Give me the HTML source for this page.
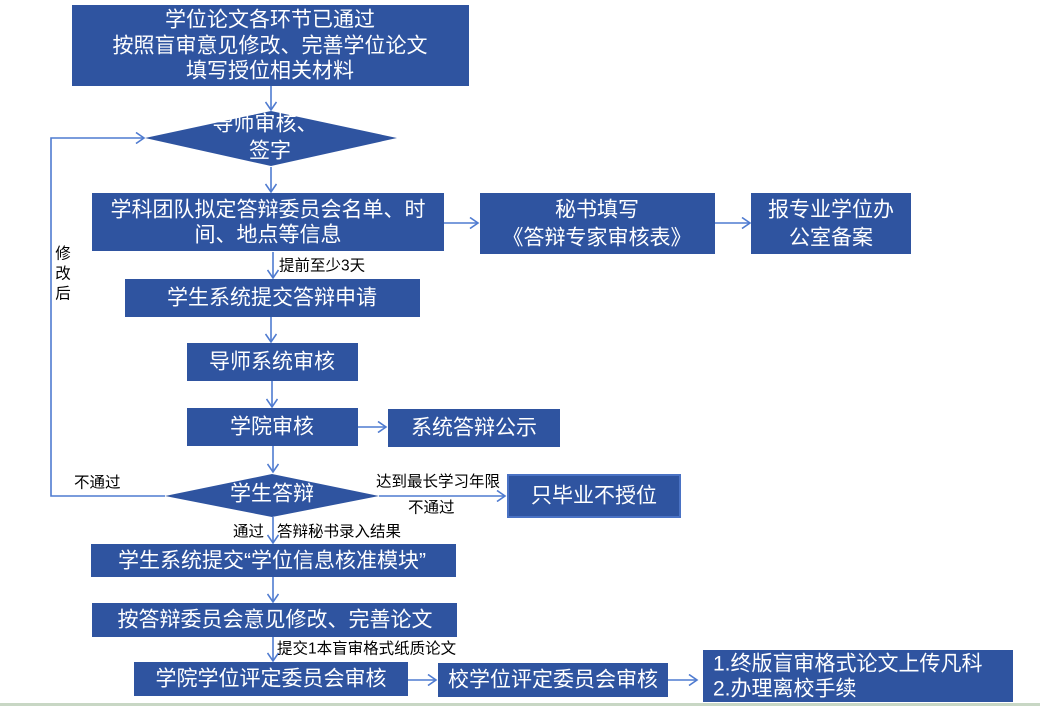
<!DOCTYPE html>
<html><head><meta charset="utf-8">
<style>
html,body{margin:0;padding:0;background:#fff;}
svg{display:block;}
text{font-family:"Liberation Sans","Noto Sans CJK SC",sans-serif;}
.w{fill:#fff;font-size:21px;text-anchor:middle;dominant-baseline:central;}
.b{fill:#000;font-size:15.5px;dominant-baseline:central;}
.box{fill:#2F54A0;}
.ln{stroke:#4F7BD0;stroke-width:1.6;fill:none;}
</style></head>
<body>
<svg width="1040" height="706" viewBox="0 0 1040 706" xmlns="http://www.w3.org/2000/svg">
<defs>
<marker id="ah" markerWidth="12" markerHeight="12" refX="9" refY="6" orient="auto" markerUnits="userSpaceOnUse">
<path d="M1,0.5 L9,6 L1,11.5" fill="none" stroke="#4F7BD0" stroke-width="1.6"/>
</marker>
</defs>

<!-- top box -->
<rect class="box" x="72" y="5" width="397" height="81"/>
<text class="w" x="270" y="20">学位论文各环节已通过</text>
<text class="w" x="270" y="46">按照盲审意见修改、完善学位论文</text>
<text class="w" x="270" y="71">填写授位相关材料</text>

<line class="ln" x1="271" y1="86" x2="271" y2="110" marker-end="url(#ah)"/>

<!-- diamond 1 -->
<polygon class="box" points="145,138 271,111 397,138 271,166"/>
<text class="w" x="265" y="124">导师审核、</text>
<text class="w" x="270" y="151">签字</text>

<line class="ln" x1="271" y1="167" x2="271" y2="192" marker-end="url(#ah)"/>

<!-- box 4 -->
<rect class="box" x="92" y="193" width="352" height="58"/>
<text class="w" x="268" y="210">学科团队拟定答辩委员会名单、时</text>
<text class="w" x="268" y="235">间、地点等信息</text>

<line class="ln" x1="444" y1="223" x2="478" y2="223" marker-end="url(#ah)"/>
<rect class="box" x="480" y="193" width="235" height="61"/>
<text class="w" x="597" y="210">秘书填写</text>
<text class="w" x="597" y="238">《答辩专家审核表》</text>

<line class="ln" x1="715" y1="223" x2="750" y2="223" marker-end="url(#ah)"/>
<rect class="box" x="751" y="193" width="160" height="61"/>
<text class="w" x="831" y="210">报专业学位办</text>
<text class="w" x="831" y="238">公室备案</text>

<line class="ln" x1="273" y1="252" x2="273" y2="278" marker-end="url(#ah)"/>
<text class="b" x="279" y="266">提前至少3天</text>

<rect class="box" x="125" y="279" width="295" height="38"/>
<text class="w" x="272" y="298">学生系统提交答辩申请</text>

<line class="ln" x1="271" y1="317" x2="271" y2="342" marker-end="url(#ah)"/>
<rect class="box" x="187" y="343" width="171" height="38"/>
<text class="w" x="272" y="362">导师系统审核</text>

<line class="ln" x1="272" y1="381" x2="272" y2="407" marker-end="url(#ah)"/>
<rect class="box" x="187" y="408" width="171" height="38"/>
<text class="w" x="272" y="427">学院审核</text>

<line class="ln" x1="358" y1="427" x2="386" y2="427" marker-end="url(#ah)"/>
<rect class="box" x="388" y="409" width="172" height="38"/>
<text class="w" x="474" y="428">系统答辩公示</text>

<line class="ln" x1="273" y1="446" x2="273" y2="472" marker-end="url(#ah)"/>

<!-- loop back -->
<polyline class="ln" points="165,496 51,496 51,138 144,138" marker-end="url(#ah)"/>
<text class="b" x="63" y="254" text-anchor="middle" style="font-size:15.5px">修</text>
<text class="b" x="63" y="274" text-anchor="middle" style="font-size:15.5px">改</text>
<text class="b" x="63" y="294" text-anchor="middle" style="font-size:15.5px">后</text>
<text class="b" x="74" y="483">不通过</text>

<!-- diamond 2 -->
<polygon class="box" points="165,496 272,474 379,496 272,517"/>
<text class="w" x="272" y="494">学生答辩</text>

<line class="ln" x1="379" y1="496" x2="505" y2="496" marker-end="url(#ah)"/>
<text class="b" x="376" y="482">达到最长学习年限</text>
<text class="b" x="408" y="508">不通过</text>

<rect x="508" y="475" width="172" height="42" fill="#2F54A0" stroke="#4A72C4" stroke-width="2"/>
<text class="w" x="594" y="496">只毕业不授位</text>

<line class="ln" x1="273" y1="517" x2="273" y2="543" marker-end="url(#ah)"/>
<text class="b" x="233" y="532">通过</text>
<text class="b" x="277" y="532">答辩秘书录入结果</text>

<rect class="box" x="91" y="544" width="365" height="33"/>
<text class="w" x="272" y="561">学生系统提交“学位信息核准模块”</text>

<line class="ln" x1="273" y1="577" x2="273" y2="602" marker-end="url(#ah)"/>
<rect class="box" x="92" y="603" width="365" height="34"/>
<text class="w" x="275" y="620">按答辩委员会意见修改、完善论文</text>

<line class="ln" x1="273" y1="637" x2="273" y2="661" marker-end="url(#ah)"/>
<text class="b" x="277" y="649">提交1本盲审格式纸质论文</text>

<rect class="box" x="134" y="662" width="274" height="34"/>
<text class="w" x="271" y="679">学院学位评定委员会审核</text>

<line class="ln" x1="408" y1="680" x2="436" y2="680" marker-end="url(#ah)"/>
<rect class="box" x="438" y="663" width="230" height="34"/>
<text class="w" x="553" y="680">校学位评定委员会审核</text>

<line class="ln" x1="668" y1="680" x2="697" y2="680" marker-end="url(#ah)"/>
<rect class="box" x="703" y="650" width="310" height="52"/>
<text class="w" x="713" y="664" style="text-anchor:start">1.终版盲审格式论文上传凡科</text>
<text class="w" x="713" y="689" style="text-anchor:start">2.办理离校手续</text>

<rect x="0" y="703" width="1040" height="3" fill="#C8D7C4"/>
</svg>
</body></html>
